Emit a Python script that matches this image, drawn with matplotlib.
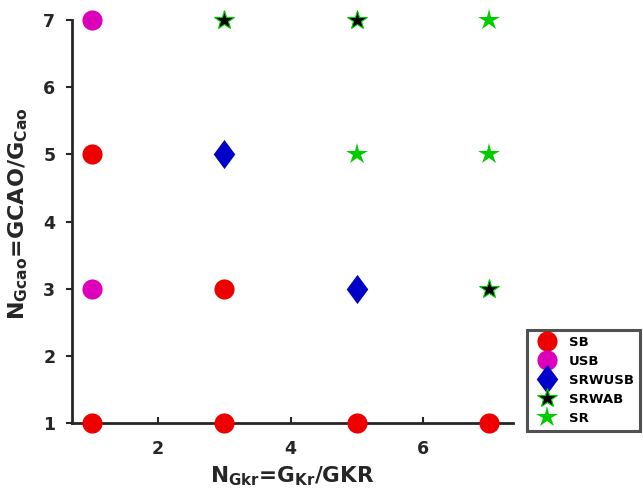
import matplotlib
matplotlib.use("Agg")
import matplotlib.pyplot as plt

sb_x = [1, 3, 5, 7, 1, 3]
sb_y = [1, 1, 1, 1, 5, 3]
usb_x = [1, 1]
usb_y = [7, 3]
srwusb_x = [3, 5]
srwusb_y = [5, 3]
srwab_x = [3, 5, 7]
srwab_y = [7, 7, 3]
sr_x = [7, 5, 7]
sr_y = [7, 5, 5]
xticks = [2, 4, 6]
yticks = [1, 2, 3, 4, 5, 6, 7]

plt.rcParams['font.family'] = ['DejaVu Sans']
plt.rcParams['font.weight'] = 'bold'

diamond = [(0, -1), (0.74, 0), (0, 1), (-0.74, 0), (0, -1)]

fig = plt.figure(figsize=(6.43, 4.92), dpi=100)
ax = fig.add_axes([0.112, 0.140, 0.686, 0.819])

ax.plot(sb_x, sb_y, 'o', color='#ee0000', markersize=14.5, markeredgewidth=0, label='SB', clip_on=False, zorder=3)
ax.plot(usb_x, usb_y, 'o', color='#dd00bb', markersize=14.5, markeredgewidth=0, label='USB', clip_on=False, zorder=3)
ax.plot(srwusb_x, srwusb_y, marker=diamond, linestyle='none', color='#0000c8', markersize=21, markeredgewidth=0, label='SRWUSB', clip_on=False, zorder=3)
ax.plot(srwab_x, srwab_y, '*', markerfacecolor='black', markeredgecolor='#00cc00', markeredgewidth=0.8, markersize=15, label='SRWAB', clip_on=False, zorder=3)
ax.plot(sr_x, sr_y, '*', color='#00cc00', markersize=16, markeredgewidth=0, label='SR', clip_on=False, zorder=3)

ax.set_xlim(0.7, 7.36)
ax.set_ylim(1, 7)
ax.set_xticks(xticks)
ax.set_yticks(yticks)
ax.spines['top'].set_visible(False)
ax.spines['right'].set_visible(False)
for s in ['left', 'bottom']:
    ax.spines[s].set_linewidth(2)
    ax.spines[s].set_color('#262626')
ax.tick_params(axis='both', colors='#262626', labelsize=12.5, width=1.5, length=4)
ax.tick_params(axis='x', direction='in', pad=12)
ax.tick_params(axis='y', direction='out', pad=8)
for lab in ax.get_xticklabels() + ax.get_yticklabels():
    lab.set_fontweight('bold')

ax.set_xlabel(r'$\mathbf{N_{Gkr}}$=$\mathbf{G_{Kr}}$/GKR', fontsize=15.5, fontweight='bold', color='#262626', labelpad=5)
ax.set_ylabel(r'$\mathbf{N_{Gcao}}$=GCAO/$\mathbf{G_{Cao}}$', fontsize=16, fontweight='bold', color='#262626', labelpad=4)
ax.yaxis.set_label_coords(-0.095, 0.52)

leg = fig.legend(loc='upper left', bbox_to_anchor=(527/643, 1 - 330/492, 113/643, 0),
                 mode='expand', fontsize=9.5, frameon=True, fancybox=False,
                 handlelength=2.2, handletextpad=0.5, labelspacing=0.45, borderpad=0.45,
                 borderaxespad=0)
leg.get_frame().set_edgecolor('#262626')
leg.get_frame().set_linewidth(2.2)
for t in leg.get_texts():
    t.set_fontweight('bold')

fig.savefig('out.png', dpi=100)
